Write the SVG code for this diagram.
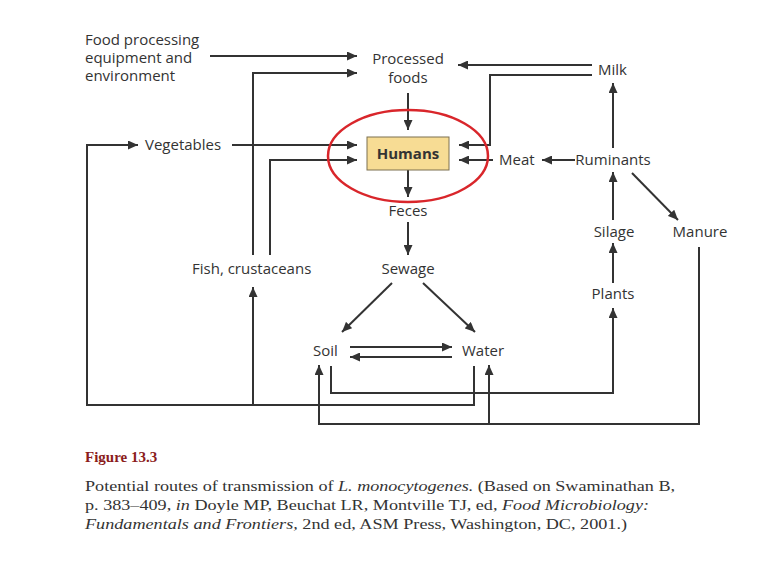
<svg xmlns="http://www.w3.org/2000/svg" width="769" height="564" viewBox="0 0 769 564">
<style>
.lbl{font-family:"Open Sans","Noto Sans",sans-serif;font-size:15px;fill:#333}
.c{text-anchor:middle}
.ln{fill:none;stroke:#333;stroke-width:2}
.cap{font-family:"Liberation Serif",serif;font-size:14.5px;fill:#333}
</style>
<defs>
<marker id="ah" markerUnits="userSpaceOnUse" markerWidth="10" markerHeight="9" refX="10" refY="4.5" orient="auto">
<path d="M0,0 L10,4.5 L0,9 z" fill="#333"/>
</marker>
</defs>
<rect width="769" height="564" fill="#fff"/>
<g id="connectors">
<path class="ln" marker-end="url(#ah)" d="M210,56 H357"/>
<path class="ln" marker-end="url(#ah)" d="M253,255 V73 H357"/>
<path class="ln" marker-end="url(#ah)" d="M232,145 H357"/>
<path class="ln" marker-end="url(#ah)" d="M270,255 V160 H357"/>
<path class="ln" marker-end="url(#ah)" d="M408,93 V130"/>
<path class="ln" marker-end="url(#ah)" d="M592,65 H458"/>
<path class="ln" marker-end="url(#ah)" d="M592,75 H490 V145 H459"/>
<path class="ln" marker-end="url(#ah)" d="M493,160 H459"/>
<path class="ln" marker-end="url(#ah)" d="M575,160 H542"/>
<path class="ln" marker-end="url(#ah)" d="M613,148 V83"/>
<path class="ln" marker-end="url(#ah)" d="M613,220 V172"/>
<path class="ln" marker-end="url(#ah)" d="M632,173 L678,220"/>
<path class="ln" marker-end="url(#ah)" d="M613,283 V243"/>
<path class="ln" marker-end="url(#ah)" d="M408,170 V197"/>
<path class="ln" marker-end="url(#ah)" d="M408,222 V255"/>
<path class="ln" marker-end="url(#ah)" d="M392,283 L342,332"/>
<path class="ln" marker-end="url(#ah)" d="M423,283 L475,332"/>
<path class="ln" marker-end="url(#ah)" d="M350,347 H452"/>
<path class="ln" marker-end="url(#ah)" d="M452,357 H350"/>
<path class="ln" marker-end="url(#ah)" d="M331,366 V393 H613 V308"/>
<path class="ln" marker-end="url(#ah)" d="M474,366 V405 H87 V145 H138"/>
<path class="ln" marker-end="url(#ah)" d="M253,405 V287"/>
<path class="ln" marker-end="url(#ah)" d="M699,247 V424 H319 V365"/>
<path class="ln" marker-end="url(#ah)" d="M489,424 V365"/>
</g>
<g id="food-processing"><text class="lbl" x="85" y="45">Food processing</text><text class="lbl" x="85" y="63">equipment and</text><text class="lbl" x="85" y="81">environment</text></g>
<g id="processed-foods"><text class="lbl c" x="408" y="64">Processed</text><text class="lbl c" x="408" y="83">foods</text></g>
<g id="milk"><text class="lbl" x="598" y="75">Milk</text></g>
<g id="vegetables"><text class="lbl" x="145" y="150">Vegetables</text></g>
<g id="humans"><rect x="367" y="137" width="82" height="33" fill="#f7dc94" stroke="#7d7050" stroke-width="1"/><text class="lbl c" x="408" y="159" style="font-weight:bold">Humans</text></g>
<g id="meat"><text class="lbl" x="499" y="165">Meat</text></g>
<g id="ruminants"><text class="lbl c" x="613" y="165">Ruminants</text></g>
<g id="feces"><text class="lbl c" x="408" y="216">Feces</text></g>
<g id="silage"><text class="lbl c" x="614" y="237">Silage</text></g>
<g id="manure"><text class="lbl c" x="700" y="237">Manure</text></g>
<g id="fish"><text class="lbl" x="192" y="274">Fish, crustaceans</text></g>
<g id="sewage"><text class="lbl c" x="408" y="274">Sewage</text></g>
<g id="plants"><text class="lbl c" x="613" y="299">Plants</text></g>
<g id="soil"><text class="lbl" x="313" y="356">Soil</text></g>
<g id="water"><text class="lbl" x="462" y="356">Water</text></g>
<ellipse id="highlight" cx="408" cy="156" rx="80" ry="46" fill="none" stroke="#d9262b" stroke-width="2.5"/>
<g id="caption">
<text class="cap" x="85" y="462" style="fill:#8b1c1c;font-weight:bold;font-size:15px">Figure 13.3</text>
<text class="cap" x="85" y="491" textLength="590" lengthAdjust="spacingAndGlyphs">Potential routes of transmission of <tspan font-style="italic">L. monocytogenes.</tspan> (Based on Swaminathan B,</text>
<text class="cap" x="85" y="510" textLength="564" lengthAdjust="spacingAndGlyphs">p. 383–409, <tspan font-style="italic">in</tspan> Doyle MP, Beuchat LR, Montville TJ, ed, <tspan font-style="italic">Food Microbiology:</tspan></text>
<text class="cap" x="85" y="529" textLength="542" lengthAdjust="spacingAndGlyphs"><tspan font-style="italic">Fundamentals and Frontiers,</tspan> 2nd ed, ASM Press, Washington, DC, 2001.)</text>
</g>
</svg>
